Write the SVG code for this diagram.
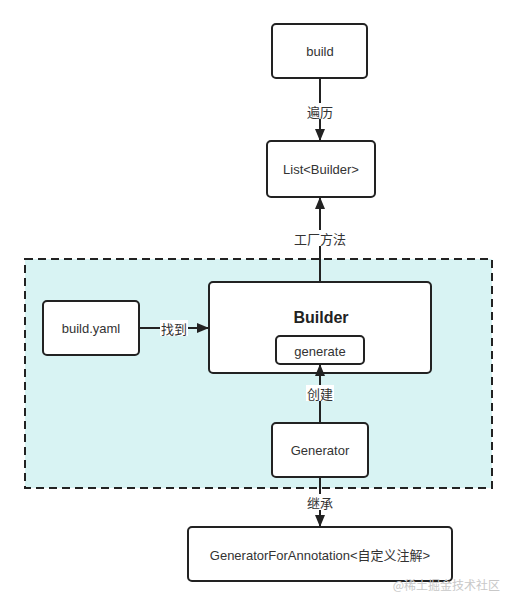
<svg xmlns="http://www.w3.org/2000/svg" width="517" height="606" viewBox="0 0 517 606">
<style>
.box{fill:#fff;stroke:#222;stroke-width:2}
.t{font-family:"Liberation Sans","Noto Sans CJK SC",sans-serif;font-size:13px;fill:#333;text-anchor:middle;dominant-baseline:central}
.lbl{font-family:"Noto Sans CJK SC","Liberation Sans",sans-serif;font-size:13px;fill:#333;text-anchor:middle;dominant-baseline:central}
.lbg{fill:#fff}
.edge{stroke:#222;stroke-width:2;fill:none}
</style>
<defs>
<marker id="arr" markerWidth="12" markerHeight="12" refX="11" refY="6" orient="auto" markerUnits="userSpaceOnUse">
<path d="M0,1 L12,6 L0,11 Z" fill="#222"/>
</marker>
</defs>
<rect width="517" height="606" fill="#fff"/>
<g id="container">
<rect x="25" y="259" width="467" height="229" fill="#d8f3f3" stroke="#222" stroke-width="2" stroke-dasharray="8,5"/>
</g>
<g id="build">
<rect class="box" x="272" y="24" width="95" height="54" rx="4"/>
<text class="t" x="320" y="51">build</text>
</g>
<g id="list-builder">
<rect class="box" x="267" y="141" width="108" height="56" rx="4"/>
<text class="t" x="321" y="169">List&lt;Builder&gt;</text>
</g>
<g id="build-yaml">
<rect class="box" x="43" y="301" width="96" height="54" rx="4"/>
<text class="t" x="91" y="328">build.yaml</text>
</g>
<g id="builder">
<rect class="box" x="209" y="282" width="222" height="91" rx="4"/>
<text class="t" x="321" y="317" style="font-size:16px;font-weight:bold;fill:#222">Builder</text>
</g>
<g id="generate">
<rect class="box" x="276" y="336" width="88" height="28" rx="4"/>
<text class="t" x="320" y="351">generate</text>
</g>
<g id="generator">
<rect class="box" x="272" y="423" width="96" height="54" rx="4"/>
<text class="t" x="320" y="450">Generator</text>
</g>
<g id="generator-for-annotation">
<rect class="box" x="188" y="527" width="264" height="54" rx="4"/>
<text class="t" x="320" y="555">GeneratorForAnnotation&lt;自定义注解&gt;</text>
</g>
<g id="connectors">
<line class="edge" x1="320" y1="79" x2="320" y2="140" marker-end="url(#arr)"/>
<rect class="lbg" x="306" y="103" width="28" height="16"/>
<text class="lbl" x="320" y="111">遍历</text>
<line class="edge" x1="320" y1="282" x2="320" y2="198" marker-end="url(#arr)"/>
<rect class="lbg" x="292" y="230" width="56" height="16"/>
<text class="lbl" x="320" y="238">工厂方法</text>
<line class="edge" x1="139" y1="328" x2="208" y2="328" marker-end="url(#arr)"/>
<rect class="lbg" x="160" y="320" width="28" height="16"/>
<text class="lbl" x="174" y="328">找到</text>
<line class="edge" x1="320" y1="423" x2="320" y2="365" marker-end="url(#arr)"/>
<rect class="lbg" x="306" y="385" width="28" height="16"/>
<text class="lbl" x="320" y="393">创建</text>
<line class="edge" x1="320" y1="477" x2="320" y2="526" marker-end="url(#arr)"/>
<rect class="lbg" x="306" y="494" width="28" height="16"/>
<text class="lbl" x="320" y="502">继承</text>
</g>
<text x="500" y="584" style="font-family:'Noto Sans CJK SC',sans-serif;font-size:12px;fill:#c8c8c8;text-anchor:end;dominant-baseline:central">@稀土掘金技术社区</text>
</svg>
